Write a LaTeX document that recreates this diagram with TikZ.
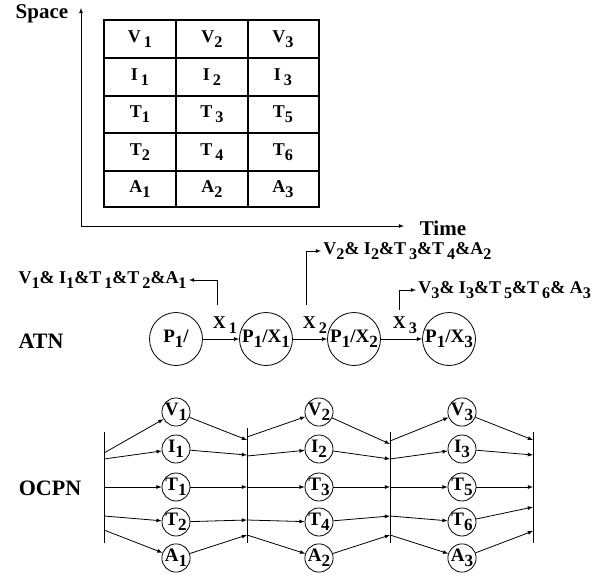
\documentclass[tikz,border=0pt]{standalone}
\usepackage{fontspec}
\usepackage{graphicx}
\setmainfont{Liberation Serif}
\usetikzlibrary{arrows}
\newcommand{\lo}[1]{\raisebox{-0.25em}{\scalebox{0.9}{#1}}}
\tikzset{
  axislabel/.style={font=\fontsize{21}{24}\selectfont\bfseries},
  rowname/.style={font=\fontsize{22}{25}\selectfont\bfseries},
  cell/.style={font=\fontsize{18}{21}\selectfont\bfseries},
  state/.style={draw,circle,minimum size=53pt,inner sep=0pt,font=\fontsize{19}{22}\selectfont\bfseries},
  place/.style={draw,circle,minimum size=28pt,inner sep=0pt,font=\fontsize{19}{22}\selectfont\bfseries},
  arclabel/.style={font=\fontsize{18}{21}\selectfont\bfseries},
  seqlabel/.style={font=\fontsize{18}{21}\selectfont\bfseries,inner sep=2pt},
}
\begin{document}
\begin{tikzpicture}[x=1pt,y=-1pt,line width=0.8pt,>=latex]
        \useasboundingbox (0,0) rectangle (603,581);
        %
        % Space/time axes
        \node[axislabel] (space) at (42,14) {Space};
        \node[axislabel] (time) at (443,228) {Time};
        \coordinate (origin) at (81,226);
        \coordinate (ytop) at (81,8);
        \coordinate (xend) at (404,226);
        \draw[->] (origin) -- (ytop);
        \draw[->] (origin) -- (xend);
        %
        % table of media objects
        \draw[line width=1.1pt] (104,20) rectangle (319,207);
        \draw[line width=1.1pt] (176,20) -- (176,207) (248,20) -- (248,207);
        \draw[line width=1.1pt] (104,58) -- (319,58) (104,96) -- (319,96)
                (104,133) -- (319,133) (104,171) -- (319,171);
        \node[cell] (v1) at (140,39) {V\,\lo{1}};
        \node[cell] (v2) at (212,39) {V\lo{2}};
        \node[cell] (v3) at (283,39) {V\lo{3}};
        \node[cell] (i1) at (140,77) {I\,\lo{1}};
        \node[cell] (i2) at (212,77) {I\,\lo{2}};
        \node[cell] (i3) at (283,77) {I\,\lo{3}};
        \node[cell] (t1) at (140,114) {T\lo{1}};
        \node[cell] (t3) at (212,114) {T\,\lo{3}};
        \node[cell] (t5) at (283,114) {T\lo{5}};
        \node[cell] (t2) at (140,152) {T\lo{2}};
        \node[cell] (t4) at (212,152) {T\,\lo{4}};
        \node[cell] (t6) at (283,152) {T\lo{6}};
        \node[cell] (a1) at (140,189) {A\lo{1}};
        \node[cell] (a2) at (212,189) {A\lo{2}};
        \node[cell] (a3) at (283,189) {A\lo{3}};
        %
        % ATN
        \node[rowname] (atn) at (41,341) {ATN};
        \node[state] (p0) at (176,339) {P\lo{1}/};
        \node[state] (p1) at (266,339) {P\lo{1}/X\lo{1}};
        \node[state] (p2) at (354,339) {P\lo{1}/X\lo{2}};
        \node[state] (p3) at (449,339) {P\lo{1}/X\lo{3}};
        \draw[->] (p0) -- (p1);
        \draw[->] (p1) -- (p2);
        \draw[->] (p2) -- (p3);
        \node[arclabel] (x1) at (225,325) {X\,\lo{1}};
        \node[arclabel] (x2) at (315,325) {X\,\lo{2}};
        \node[arclabel] (x3) at (405,325) {X\,\lo{3}};
        %
        \node[seqlabel,anchor=east] (seq1) at (189,280) {V\lo{1}\&\ I\lo{1}\&T\,\lo{1}\&T\,\lo{2}\&A\lo{1}};
        \node[seqlabel,anchor=west] (seq2) at (321,251) {V\lo{2}\&\ I\lo{2}\&T\,\lo{3}\&T\,\lo{4}\&A\lo{2}};
        \node[seqlabel,anchor=west] (seq3) at (416,290) {V\lo{3}\&\ I\lo{3}\&T\,\lo{5}\&T\,\lo{6}\&\ A\lo{3}};
        \coordinate (s1) at (217,305);
        \coordinate (s2) at (306,305);
        \coordinate (s3) at (399,310);
        \draw[->] (s1) |- (seq1.east);
        \draw[->] (s2) |- (seq2.west);
        \draw[->] (s3) |- (seq3.west);
        %
        % OCPN
        \node[rowname] (ocpn) at (50,488) {OCPN};
        \coordinate (b1t) at (104,432); \coordinate (b1b) at (104,543);
        \coordinate (b2t) at (247,428); \coordinate (b2b) at (247,543);
        \coordinate (b3t) at (390,432); \coordinate (b3b) at (390,543);
        \coordinate (b4t) at (533,432); \coordinate (b4b) at (533,543);
        \draw (b1t) -- (b1b);
        \draw (b2t) -- (b2b);
        \draw (b3t) -- (b3b);
        \draw (b4t) -- (b4b);
        %
        \foreach \r/\lab/\n/\yc/\yi/\yo in {1/V/1/412/453/440, 2/I/1/449/459/455,
                3/T/1/487/487/487, 4/T/2/522/516/520, 5/A/1/558/530/535}{
          \node[place] (m1\r) at (176,\yc) {\lab\lo{\n}};
          \coordinate (i1\r) at (104,\yi);
          \coordinate (o1\r) at (247,\yo);
          \draw[->] (i1\r) -- (m1\r);
          \draw[->] (m1\r) -- (o1\r);
        }
        \foreach \r/\lab/\n/\yc/\yi/\yo in {1/V/2/412/437/444, 2/I/2/449/456/459,
                3/T/3/487/487/487, 4/T/4/522/520/516, 5/A/2/558/535/535}{
          \node[place] (m2\r) at (319,\yc) {\lab\lo{\n}};
          \coordinate (i2\r) at (247,\yi);
          \coordinate (o2\r) at (390,\yo);
          \draw[->] (i2\r) -- (m2\r);
          \draw[->] (m2\r) -- (o2\r);
        }
        \foreach \r/\lab/\n/\yc/\yi/\yo in {1/V/3/412/441/440, 2/I/3/449/459/455,
                3/T/5/487/487/487, 4/T/6/522/516/507, 5/A/3/558/535/531}{
          \node[place] (m3\r) at (462,\yc) {\lab\lo{\n}};
          \coordinate (i3\r) at (390,\yi);
          \coordinate (o3\r) at (533,\yo);
          \draw[->] (i3\r) -- (m3\r);
          \draw[->] (m3\r) -- (o3\r);
        }
      \end{tikzpicture}
\end{document}
